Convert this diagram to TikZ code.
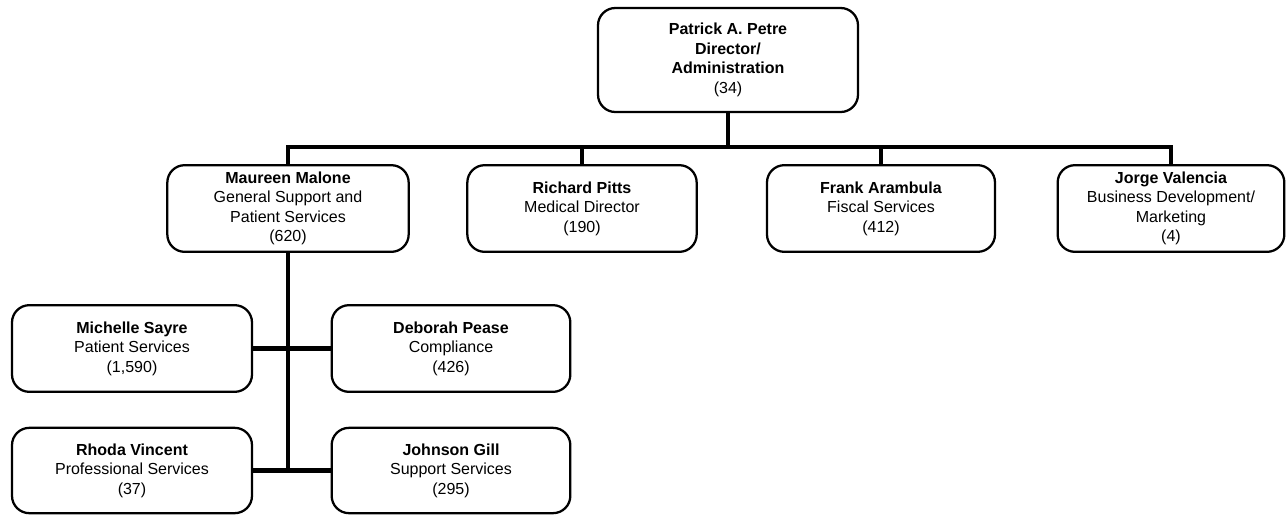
\documentclass[tikz,border=0pt]{standalone}
\usepackage{fontspec}
\setmainfont{Liberation Sans}
\usetikzlibrary{calc}
\tikzstyle{every post} = []
\tikzstyle{post} = [draw, line width=1.7pt, rounded corners=13pt, align=center, minimum height=65pt, inner sep=2pt, font=\fontsize{12}{14.6}\selectfont, every post]
\tikzstyle{reports} = [draw, line width=3.2pt]

\begin{document}
\begin{tikzpicture}[x=0.75pt, y=-0.75pt]
        \useasboundingbox (0,0) rectangle (1286,515);

        % top
        \node[post, minimum width=195pt, minimum height=78pt] (petre) at (728,60) {\textbf{Patrick A. Petre}\\\textbf{Director/}\\\textbf{Administration}\\(34)};

        % second level
        \node[post, minimum width=181pt] (malone) at (288,208.5) {\textbf{Maureen Malone}\\General Support and\\Patient Services\\(620)};
        \node[post, minimum width=172pt] (pitts) at (582,208.5) {\textbf{Richard Pitts}\\Medical Director\\(190)};
        \node[post, minimum width=171pt] (arambula) at (881,208.5) {\textbf{Frank Arambula}\\Fiscal Services\\(412)};
        \node[post, minimum width=170pt] (valencia) at (1171,208.5) {\textbf{Jorge Valencia}\\Business Development/\\Marketing\\(4)};

        % third level
        \node[post, minimum width=180pt] (sayre) at (132,348.5) {\textbf{Michelle Sayre}\\Patient Services\\(1,590)};
        \node[post, minimum width=179pt] (pease) at (451,348.5) {\textbf{Deborah Pease}\\Compliance\\(426)};
        \node[post, minimum width=180pt, minimum height=64pt] (vincent) at (132,470.5) {\textbf{Rhoda Vincent}\\Professional Services\\(37)};
        \node[post, minimum width=179pt, minimum height=64pt] (gill) at (451,470.5) {\textbf{Johnson Gill}\\Support Services\\(295)};

        \coordinate (bar) at (0,147);
        \draw[reports] (petre.south) -- (petre.south |- bar);
        \draw[reports] (malone.north) |- (valencia.north |- bar) -- (valencia.north);
        \foreach \n in {pitts, arambula}
            \draw[reports] (\n.north) -- (\n.north |- bar);

        \draw[reports] (malone.south) -- (malone.south |- vincent.east);
        \draw[reports] (sayre.east) -- (pease.west);
        \draw[reports] (vincent.east) -- (gill.west);
    \end{tikzpicture}
\end{document}
